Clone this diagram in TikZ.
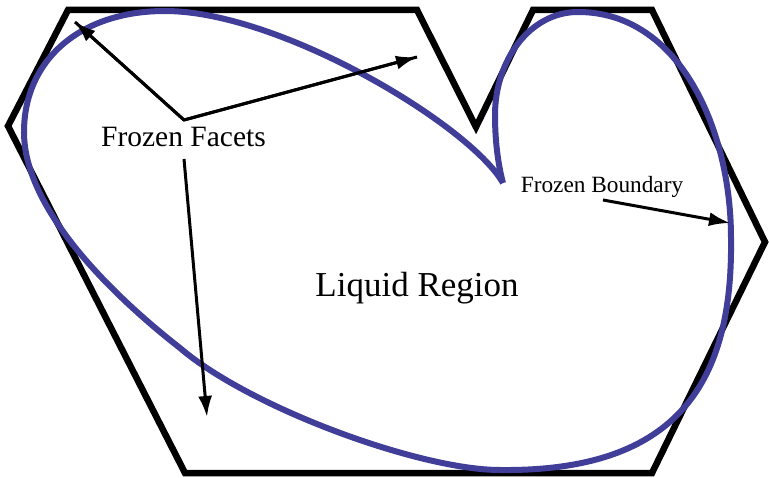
\documentclass[tikz,border=0pt]{standalone}
\usepackage{fontspec}
\setmainfont{Liberation Serif}
\usetikzlibrary{arrows.meta}
\definecolor{bound}{RGB}{64,62,153}
\begin{document}
\begin{tikzpicture}[x=1pt,y=-1pt,
  facet/.style={line width=6.5pt,line join=miter,black},
  curve/.style={line width=6pt,bound,line join=miter,miter limit=50},
  pointer/.style={line width=3pt,-{Latex[length=21pt,width=14pt]}},
  lbl/.style={anchor=base,inner sep=0pt}]
\useasboundingbox (0,0) rectangle (769,478);
\draw[facet] (68,10) -- (417,10) -- (476,127) -- (533,10) -- (652,10) -- (765,242) -- (652,473) -- (185,473) -- (8,126) -- cycle;
\draw[curve] (503,183) .. controls (470,125) and (280,11) .. (165,11)
  .. controls (80,11) and (24,60) .. (24,132)
  .. controls (24,215) and (125,305) .. (180,348)
  .. controls (250,408) and (420,470) .. (500,470)
  .. controls (680,472) and (733,380) .. (731,238)
  .. controls (731,130) and (680,12) .. (578,12)
  .. controls (530,12) and (495,60) .. (495,115)
  .. controls (495,145) and (499,168) .. (503,183);
\node[lbl,font=\fontsize{29.5}{34}\selectfont] (ff) at (183.5,147) {Frozen Facets};
\node[lbl,font=\fontsize{35}{40}\selectfont] (lr) at (417,297) {Liquid Region};
\node[lbl,font=\fontsize{23.3}{28}\selectfont] (fb) at (602,193) {Frozen Boundary};
\coordinate (hub) at (184,120);
\coordinate (low) at (184,159);
\coordinate (fbs) at (603,200);
\coordinate (t1) at (75,22);
\coordinate (t2) at (417,57);
\coordinate (t3) at (207,417);
\coordinate (t4) at (730,223);
\draw[line width=3pt,line join=miter] (t1) -- (hub) -- (t2);
\draw[pointer] (hub) -- (t1);
\draw[pointer] (hub) -- (t2);
\draw[pointer] (low) -- (t3);
\draw[pointer] (fbs) -- (t4);
\end{tikzpicture}
\end{document}
